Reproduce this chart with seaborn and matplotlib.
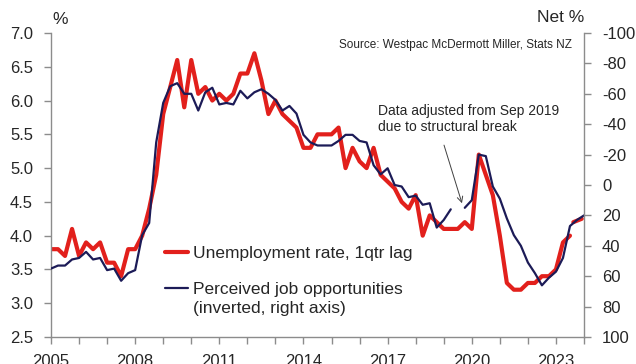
import numpy as np
import pandas as pd
import matplotlib
matplotlib.use("Agg")
import matplotlib.pyplot as plt
import seaborn as sns

# Unemployment rate (%), quarterly, shifted one quarter
unemp_dates = np.arange(2005.0, 2023.51, 0.25)
unemp_rate = [
    3.8, 3.8, 3.7, 4.1,
    3.7, 3.9, 3.8, 3.9,
    3.6, 3.6, 3.4, 3.8,
    3.8, 4.0, 4.4, 4.9,
    5.8, 6.2, 6.6, 5.9,
    6.6, 6.1, 6.2, 6.0,
    6.1, 6.0, 6.1, 6.4,
    6.4, 6.7, 6.3, 5.8,
    6.0, 5.8, 5.7, 5.6,
    5.3, 5.3, 5.5, 5.5,
    5.5, 5.6, 5.0, 5.3,
    5.1, 5.0, 5.3, 4.9,
    4.8, 4.7, 4.5, 4.4,
    4.6, 4.0, 4.3, 4.2,
    4.1, 4.1, 4.1, 4.2,
    4.1, 5.2, 4.9, 4.6,
    4.0, 3.3, 3.2, 3.2,
    3.3, 3.3, 3.4, 3.4,
    3.5, 3.9, 4.0,
]
# latest readings, drawn as a separate piece
unemp_tail_dates = [2023.62, 2023.92]
unemp_tail_rate = [4.2, 4.25]

# Perceived job opportunities (net %), quarterly; NaN marks the series break
jobs_dates = np.arange(2005.0, 2024.01, 0.25)
jobs_net = [
    55, 53, 53, 49,
    48, 44, 49, 48,
    56, 55, 63, 58,
    56, 33, 25, -28,
    -54, -65, -67, -60,
    -60, -49, -61, -64,
    -53, -54, -53, -62,
    -57, -61, -63, -60,
    -56, -49, -52, -47,
    -33, -28, -26, -26,
    -26, -29, -33, -33,
    -29, -28, -13, -7,
    -11, 0, 1, 8,
    7, 13, 12, 28,
    23, 16, np.nan, 15,
    10, -20, -19, 1,
    9, 22, 33, 40,
    51, 58, 66, 61,
    57, 48, 27, 23,
    20,
]

left_ticks = [2.5, 3.0, 3.5, 4.0, 4.5, 5.0, 5.5, 6.0, 6.5, 7.0]
right_ticks = [-100, -80, -60, -40, -20, 0, 20, 40, 60, 80, 100]
year_ticks = [2005, 2008, 2011, 2014, 2017, 2020, 2023]

RED = "#E2201C"
NAVY = "#1C1B57"
TEXT = "#262626"
SPINE = "#8C8C8C"
W, H = 636, 364


def segments(dates, values, start_id=0):
    """Split a series into continuous pieces at missing values."""
    df = pd.DataFrame({"date": dates, "value": values})
    df["segment"] = df["value"].isna().cumsum() + start_id
    return df.dropna()


unemp_df = pd.concat([
    segments(unemp_dates, unemp_rate, 0),
    pd.DataFrame({"date": unemp_tail_dates, "value": unemp_tail_rate, "segment": 99}),
])
jobs_df = segments(jobs_dates, jobs_net)

sns.set_style("ticks")
plt.rcParams["font.family"] = ["Liberation Sans", "DejaVu Sans"]
plt.rcParams["axes.unicode_minus"] = False

fig = plt.figure(figsize=(W / 100, H / 100), dpi=100)
ax = fig.add_axes([51 / W, 1 - 337 / H, 533 / W, 304 / H])
ax2 = ax.twinx()

sns.lineplot(data=unemp_df, x="date", y="value", units="segment", estimator=None,
             color=RED, linewidth=3.0, ax=ax, legend=False)
sns.lineplot(data=jobs_df, x="date", y="value", units="segment", estimator=None,
             color=NAVY, linewidth=1.6, ax=ax2, legend=False)

ax.set_xlim(2005, 2024)
ax.set_ylim(2.5, 7.0)
ax2.set_ylim(100, -100)

ax.set_xticks(year_ticks)
ax.set_xticklabels([str(y) for y in year_ticks])
ax.set_xticks(range(2005, 2025), minor=True)
ax.set_yticks(left_ticks)
ax.set_yticklabels([f"{v:.1f}" for v in left_ticks])
ax2.set_yticks(right_ticks)
ax2.set_yticklabels([str(v) for v in right_ticks])

for a in (ax, ax2):
    a.set_xlabel("")
    a.set_ylabel("")
    a.spines["top"].set_visible(False)
    for s in ("left", "right", "bottom"):
        a.spines[s].set_color(SPINE)
        a.spines[s].set_linewidth(1.0)

ax.spines["right"].set_visible(False)
ax2.spines["left"].set_visible(False)
ax2.spines["bottom"].set_visible(False)

ax.tick_params(axis="y", which="both", direction="out", length=5, width=1,
               color=SPINE, labelsize=12, labelcolor=TEXT, pad=8)
ax.tick_params(axis="x", which="both", direction="out", length=5, width=1,
               color=SPINE, labelsize=12, labelcolor=TEXT, pad=7)
ax2.tick_params(axis="y", which="both", direction="out", length=5, width=1,
                color=SPINE, labelsize=12, labelcolor=TEXT, pad=8)

# axis unit labels
fig.text(60.5 / W, 1 - 19 / H, "%", ha="center", va="center",
         fontsize=12.5, color=TEXT)
fig.text(584 / W, 1 - 18 / H, "Net %", ha="right", va="center",
         fontsize=12.5, color=TEXT)

ax.text(2023.57, 6.82, "Source: Westpac McDermott Miller, Stats NZ",
        ha="right", va="center", fontsize=8.5, color=TEXT)

# note on the series break, with a pointer to the resumed data
ax.text(2016.66, 5.95, "Data adjusted from Sep 2019\ndue to structural break",
        ha="left", va="top", fontsize=10, color=TEXT, linespacing=1.15)
ax.annotate("", xy=(2019.65, 4.48), xytext=(2019.01, 5.34),
            arrowprops=dict(arrowstyle="->", color="#404040", lw=0.7,
                            shrinkA=0, shrinkB=0))

handles = [ax.lines[0], ax2.lines[0]]
labels = ["Unemployment rate, 1qtr lag", "Perceived job opportunities"]
leg = ax2.legend(handles, labels, loc="upper left",
                 bbox_to_anchor=(165 / W, 1 - 246 / H),
                 bbox_transform=fig.transFigure, frameon=False,
                 fontsize=12.5, handlelength=1.3, handletextpad=0.3,
                 labelspacing=1.22, borderpad=0, borderaxespad=0)
for t in leg.get_texts():
    t.set_color(TEXT)

# second line of the job-opportunities entry, set under its label
fig.canvas.draw()
bb = leg.get_texts()[1].get_window_extent()
fig.text(bb.x0 / W, ((bb.y0 + bb.y1) / 2 - 19) / H, "(inverted, right axis)",
         ha="left", va="center", fontsize=12.5, color=TEXT)

fig.savefig("out.png", dpi=100)
